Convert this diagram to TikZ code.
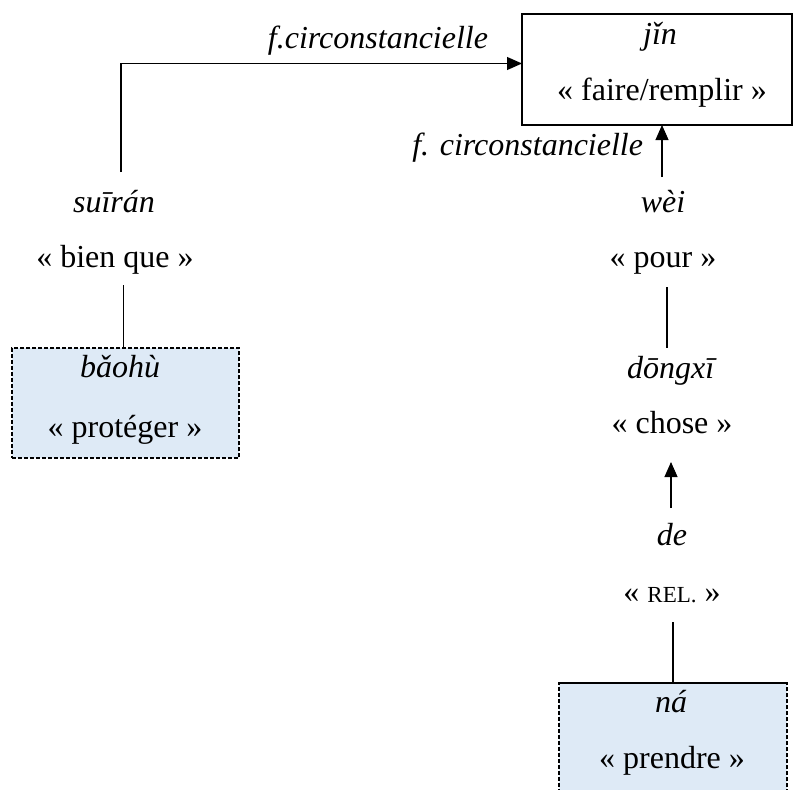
\documentclass[tikz,border=0pt]{standalone}
\usepackage{fontspec}
\setmainfont{Liberation Serif}
\usetikzlibrary{arrows.meta,calc}
\definecolor{boxblue}{HTML}{DEEAF6}
\begin{document}
\begin{tikzpicture}[x=1pt,y=-1pt,
  txt/.style={font=\fontsize{32}{38}\selectfont, inner sep=0pt, outer sep=0pt, text height=24pt, text depth=8pt, anchor=base},
  conn/.style={line width=1.1pt},
  arr/.style={conn, -{Triangle[length=15pt,width=13pt]}},
  mainbox/.style={draw, line width=1.7pt, inner sep=0pt, outer sep=0pt},
  depbox/.style={draw, fill=boxblue, line width=1.6pt, dash pattern=on 4pt off 2pt, inner sep=0pt, outer sep=0pt}]
\useasboundingbox (0,0) rectangle (794,789);
\clip (0,0) rectangle (794,789);

% boxes
\node[mainbox, minimum width=270pt, minimum height=111pt] (jin) at (657,69.5) {};
\node[depbox, minimum width=227pt, minimum height=110pt] (baohu) at (125.5,403) {};
\node[depbox, minimum width=228pt, minimum height=110pt] (na) at (673,738) {};
\draw[line width=1.8pt] (na.north west) -- (na.north east);

% texts
\node[txt] (jinA) at (660,45) {\textit{jǐn}};
\node[txt] (jinB) at (662,101) {« faire/remplir »};
\node[txt] (fc1) at (378,49) {\textit{f.circonstancielle}};
\node[txt, anchor=base east] (fc2) at (643,155) {\textit{f. circonstancielle}};
\node[txt] (suiran) at (114,212) {\textit{suīrán}};
\node[txt] (bienque) at (115,267) {« bien que »};
\node[txt] (baohuA) at (120,377) {\textit{bǎohù}};
\node[txt] (baohuB) at (125,437) {« protéger »};
\node[txt] (wei) at (663,212) {\textit{wèi}};
\node[txt] (pour) at (663,267) {« pour »};
\node[txt] (dongxi) at (672,378) {\textit{dōngxī}};
\node[txt] (chose) at (672,433) {« chose »};
\node[txt] (de) at (672,545) {\textit{de}};
\node[txt] (rel) at (672,602) {« {\fontsize{23}{28}\selectfont REL.} »};
\node[txt] (naA) at (671,712) {\textit{ná}};
\node[txt] (naB) at (672,768) {« prendre »};

% connectors
\draw[arr] ($(suiran.north)+(7,-16)$) |- ($(jin.west)+(0,-6)$);
\draw[conn] ($(bienque.south -| baohu.north)+(-2,10)$) -- ($(baohu.north)+(-2,0)$);
\draw[arr] ($(wei.north)+(-1,-11)$) -- ($(wei.north |- jin.south)+(-1,0)$);
\draw[conn] ($(pour.south)+(4,12)$) -- ($(dongxi.north -| pour.south)+(4,-6)$);
\draw[arr] ($(de.north)+(-1,-13)$) -- ($(chose.south)+(-1,21)$);
\draw[conn] ($(rel.south)+(1,12)$) -- ($(rel.south |- na.north)+(1,0)$);
\end{tikzpicture}
\end{document}
